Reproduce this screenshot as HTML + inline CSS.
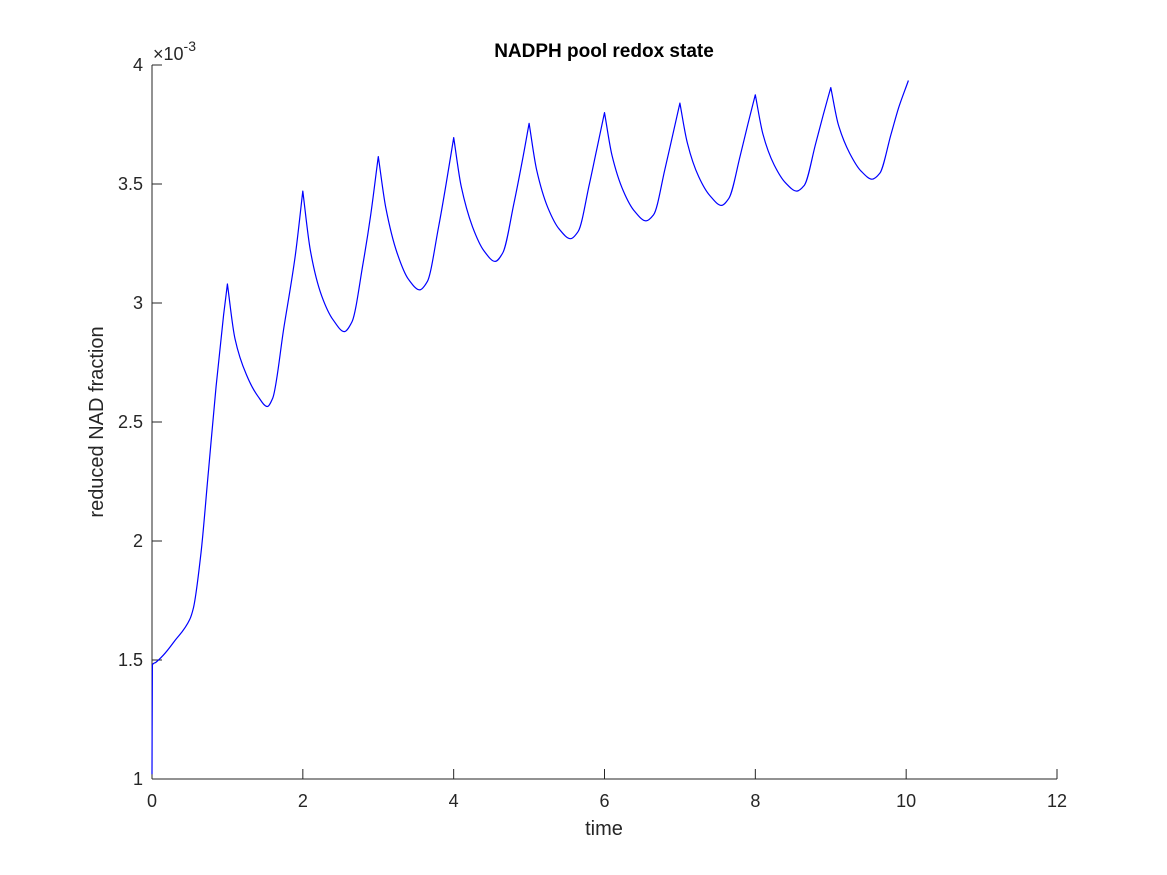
<!DOCTYPE html>
<html><head><meta charset="utf-8"><style>
body{margin:0;background:#fff;}
svg{display:block;font-family:"Liberation Sans",sans-serif;}
</style></head><body>
<svg id="c" width="1167" height="875">
<rect width="1167" height="875" fill="#fff"/>
<g id="axes"></g>
<text x="604" y="57" text-anchor="middle" font-size="19" font-weight="bold" fill="#000">NADPH pool redox state</text>
<text x="604" y="835" text-anchor="middle" font-size="20" fill="#262626">time</text>
<text transform="translate(103,422) rotate(-90)" text-anchor="middle" font-size="20" fill="#262626">reduced NAD fraction</text>
<text x="153" y="60" font-size="18" fill="#262626">×10<tspan dy="-9" font-size="14">-3</tspan></text>
</svg>
<script>
const xTicks=[0,2,4,6,8,10,12];
const yTicks=[1,1.5,2,2.5,3,3.5,4];
const yTickLabels=["1","1.5","2","2.5","3","3.5","4"];
const times=[0,0.005,0.05,0.15,0.3,0.5,0.55,0.65,0.75,0.85,0.95,1.0,
1.1,1.25,1.4,1.53,1.6,1.75,1.9,2.0,
2.1,2.25,2.4,2.55,2.65,2.8,2.9,3.0,
3.1,3.25,3.4,3.55,3.65,3.8,3.9,4.0,
4.1,4.25,4.4,4.55,4.65,4.8,4.9,5.0,
5.1,5.25,5.4,5.55,5.65,5.8,5.9,6.0,
6.1,6.25,6.4,6.55,6.65,6.8,6.9,7.0,
7.1,7.25,7.4,7.55,7.65,7.8,7.9,8.0,
8.1,8.25,8.4,8.55,8.65,8.8,8.9,9.0,
9.1,9.25,9.4,9.55,9.65,9.8,9.9,10.03];
const values=[1.02,1.48,1.49,1.52,1.58,1.67,1.72,1.95,2.3,2.65,2.95,3.08,
2.85,2.70,2.61,2.565,2.6,2.9,3.2,3.47,
3.22,3.03,2.93,2.88,2.92,3.17,3.37,3.615,
3.40,3.21,3.10,3.055,3.09,3.32,3.50,3.695,
3.49,3.32,3.22,3.175,3.21,3.42,3.58,3.755,
3.56,3.40,3.31,3.27,3.30,3.50,3.65,3.80,
3.62,3.47,3.385,3.345,3.37,3.56,3.70,3.84,
3.67,3.53,3.45,3.41,3.44,3.62,3.75,3.875,
3.71,3.58,3.505,3.47,3.495,3.67,3.79,3.905,
3.75,3.63,3.555,3.52,3.545,3.71,3.82,3.935];
const X0=152,X1=1057,Y0=779,Y1=65;
const sx=v=>X0+(v-0)/(12-0)*(X1-X0);
const sy=v=>Y0-(v-1)/(4-1)*(Y0-Y1);
const NS="http://www.w3.org/2000/svg";
const g=document.getElementById('axes');
function mk(t,a){const e=document.createElementNS(NS,t);for(const k in a)e.setAttribute(k,a[k]);g.appendChild(e);return e;}
let e=mk('line',{x1:X0,y1:Y0,x2:X1,y2:Y0,stroke:'#262626','stroke-width':1});


e=mk('line',{x1:X0,y1:Y0,x2:X0,y2:Y1,stroke:'#262626','stroke-width':1});


xTicks.forEach(v=>{
 const t=mk('line',{x1:sx(v),y1:Y0,x2:sx(v),y2:Y0-10,stroke:'#262626'});
 
 
 const l=mk('text',{x:sx(v),y:Y0+28,'text-anchor':'middle','font-size':18,fill:'#262626'});
 l.textContent=String(v);
 
 
});
yTicks.forEach((v,i)=>{
 const t=mk('line',{x1:X0,y1:sy(v),x2:X0+10,y2:sy(v),stroke:'#262626'});
 
 
 const l=mk('text',{x:X0-9,y:sy(v)+6,'text-anchor':'end','font-size':18,fill:'#262626'});
 l.textContent=yTickLabels[i];
 
 
});
// monotone cubic path through points
const px=times.map(sx), py=values.map(sy), n=px.length;
const dl=[],m=[];
for(let i=0;i<n-1;i++)dl.push((py[i+1]-py[i])/(px[i+1]-px[i]));
for(let i=0;i<n;i++){
 if(i===0)m.push(dl[0]);else if(i===n-1)m.push(dl[n-2]);
 else if(dl[i-1]*dl[i]<=0)m.push(0);
 else{const w1=2*(px[i+1]-px[i])+(px[i]-px[i-1]),w2=(px[i+1]-px[i])+2*(px[i]-px[i-1]);m.push((w1+w2)/(w1/dl[i-1]+w2/dl[i]));}
}
// keep sharp peaks (cusps) at local maxima
for(let i=1;i<n-1;i++){if(dl[i-1]<0&&dl[i]>0){m[i]=dl[i-1];}}
let d='M'+px[0].toFixed(1)+' '+py[0].toFixed(1);
for(let i=0;i<n-1;i++){
 const h=px[i+1]-px[i];
 let m0=m[i],m1=m[i+1];
 if(i>0&&dl[i-1]<0&&dl[i]>0)m0=dl[i];
 d+='C'+(px[i]+h/3).toFixed(1)+' '+(py[i]+m0*h/3).toFixed(1)+' '+(px[i+1]-h/3).toFixed(1)+' '+(py[i+1]-m1*h/3).toFixed(1)+' '+px[i+1].toFixed(1)+' '+py[i+1].toFixed(1);
}
const p=mk('path',{d:d,fill:'none',stroke:'#0000ff','stroke-width':1.2,'stroke-linejoin':'round'});


</script>
</body></html>
